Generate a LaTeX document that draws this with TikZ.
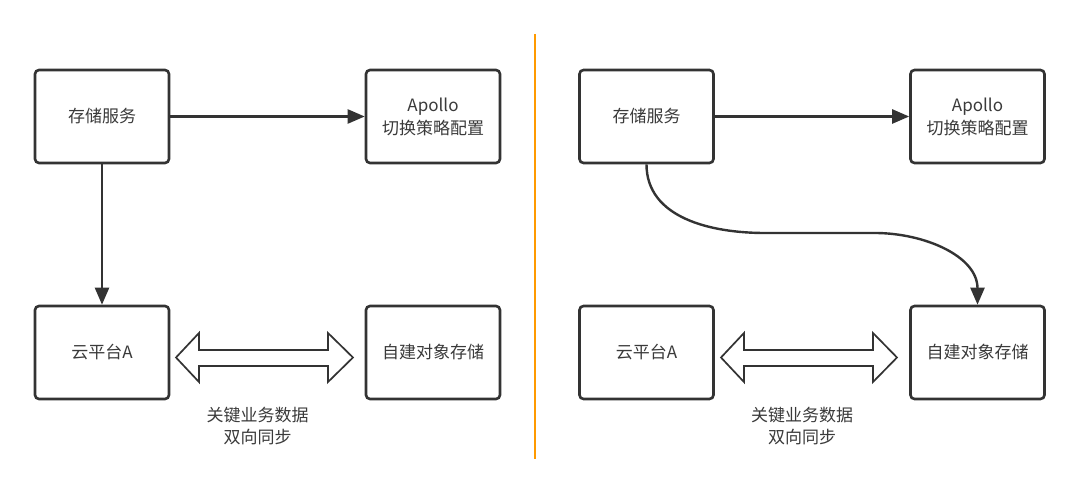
\documentclass[tikz,border=0pt]{standalone}
\usepackage{fontspec}
\setmainfont{Noto Sans CJK SC}
\usetikzlibrary{arrows.meta}
\definecolor{ink}{HTML}{333333}
\definecolor{txt}{HTML}{3A3A3A}
\definecolor{sep}{HTML}{FF9A00}
\begin{document}
\begin{tikzpicture}[x=1pt,y=-1pt,
  box/.style={draw=ink,line width=2.6pt,rounded corners=4pt,minimum width=134pt,minimum height=93pt,inner sep=0pt,text=txt,font=\fontsize{17}{23}\selectfont,align=center},
  arr/.style={draw=ink,line width=2.4pt,-{Triangle[length=17pt,width=14pt]}},
  lbl/.style={text=txt,font=\fontsize{17}{22}\selectfont,align=center,inner sep=0pt},
  hollow/.style={draw=ink,line width=1.7pt,fill=white,line join=miter}]
\useasboundingbox[fill=white] (0,0) rectangle (1080,494);

% separator
\draw[sep,line width=2.5pt] (535,34) -- (535,459);

% left panel
\node[box] (s1) at (102,116.5) {存储服务};
\node[box] (a1) at (433,116.5) {Apollo\\切换策略配置};
\node[box] (c1) at (102,352.5) {云平台A};
\node[box] (d1) at (433,352.5) {自建对象存储};
\draw[arr] (s1.east) -- (a1.west);
\draw[arr] (s1.south) -- (c1.north);
\draw[hollow] (176,357.5) -- (199,333) -- (199,350) -- (328,350) -- (328,333) -- (353,357.5)
  -- (328,382) -- (328,366) -- (199,366) -- (199,382) -- cycle;
\node[lbl] (l1) at (257.5,426) {关键业务数据\\双向同步};

% right panel
\node[box] (s2) at (646.5,116.5) {存储服务};
\node[box] (a2) at (977.5,116.5) {Apollo\\切换策略配置};
\node[box] (c2) at (646.5,352.5) {云平台A};
\node[box] (d2) at (977.5,352.5) {自建对象存储};
\draw[arr] (s2.east) -- (a2.west);
\coordinate (m1) at (765,233);
\coordinate (m2) at (875,233);
\draw[arr] (s2.south) .. controls (646.5,218) and (711,233) .. (m1) -- (m2)
  .. controls (924,233) and (977.5,256) .. (d2.north);
\draw[hollow] (721,357.5) -- (744,333) -- (744,350) -- (873,350) -- (873,333) -- (897,357.5)
  -- (873,382) -- (873,366) -- (744,366) -- (744,382) -- cycle;
\node[lbl] (l2) at (802,426) {关键业务数据\\双向同步};
\end{tikzpicture}
\end{document}
